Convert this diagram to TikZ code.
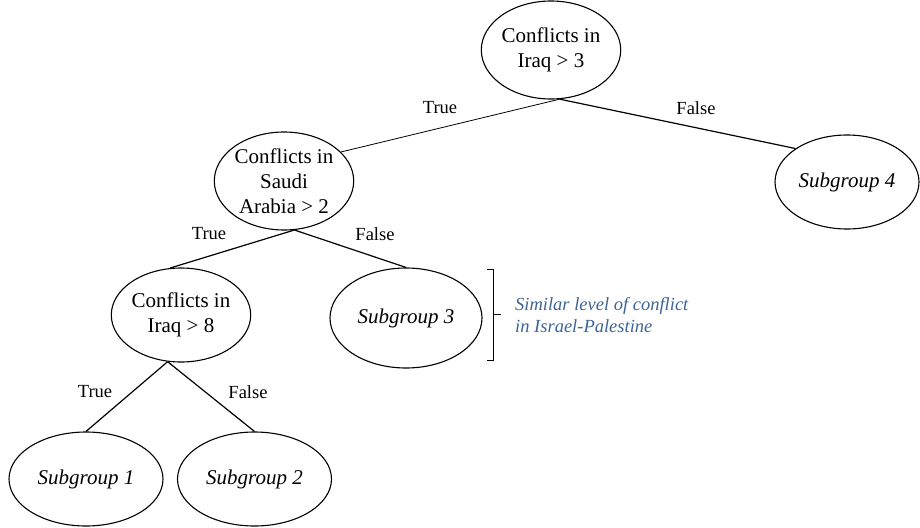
\documentclass[tikz,border=0pt]{standalone}
\usepackage{fontspec}
\setmainfont{Liberation Serif}
\usetikzlibrary{shapes.geometric,calc}
\definecolor{notecol}{RGB}{62,100,150}
\tikzset{
  tnode/.style={ellipse, draw, line width=1.1pt, inner sep=0pt, align=center,
    font=\fontsize{21}{25}\selectfont},
  subg/.style={tnode, font=\fontsize{21}{25}\selectfont\itshape},
  edge/.style={line width=1.2pt},
  thinedge/.style={line width=0.8pt},
  lbl/.style={font=\fontsize{18.5}{22}\selectfont, inner sep=0pt},
  note/.style={font=\fontsize{18.5}{22}\selectfont\itshape, text=notecol, align=left, inner sep=0pt, anchor=west},
}
\begin{document}
\begin{tikzpicture}[x=1pt,y=-1pt]
\useasboundingbox (0,0) rectangle (920,527);
\node[tnode, minimum width=132pt, minimum height=98pt] (root) at (551,50) {Conflicts in\\Iraq > 3};
\node[tnode, minimum width=136pt, minimum height=98pt] (saudi) at (284,181) {Conflicts in\\Saudi\\Arabia > 2};
\node[subg, minimum width=144pt, minimum height=94pt] (s4) at (847,182) {Subgroup 4};
\node[tnode, minimum width=126pt, minimum height=94pt] (iraq8) at (181,315) {Conflicts in\\Iraq > 8};
\node[subg, minimum width=152pt, minimum height=100pt] (s3) at (406,318) {Subgroup 3};
\node[subg, minimum width=154pt, minimum height=94pt] (s1) at (86,479) {Subgroup 1};
\node[subg, minimum width=154pt, minimum height=94pt] (s2) at (254.5,479) {Subgroup 2};

\draw[thinedge] (root.-80) -- (saudi.27);
\draw[edge] (root.-80) -- (s4.147);
\draw[edge] (saudi.-78) -- (iraq8.103);
\draw[edge] (saudi.-78) -- (s3.90);
\draw[edge] (iraq8.-106) -- (s1.90);
\draw[edge] (iraq8.-106) -- (s2.90);

\node[lbl] (l1) at (440,108) {True};
\node[lbl] (l2) at (696,108) {False};
\node[lbl] (l3) at (209,234) {True};
\node[lbl] (l4) at (375,234) {False};
\node[lbl] (l5) at (95,392) {True};
\node[lbl] (l6) at (248,392) {False};

\coordinate (bt) at (493,269);
\coordinate (bb) at (493,360);
\coordinate (bm) at (493,314);
\draw[line width=1pt] ($(bt)+(-6,0)$) -- (bt) -- (bb) -- ($(bb)+(-6,0)$);
\draw[line width=1pt] (bm) -- ($(bm)+(8,0)$);
\node[note] (nt) at (515,315) {Similar level of conflict\\in Israel-Palestine};
\end{tikzpicture}
\end{document}
